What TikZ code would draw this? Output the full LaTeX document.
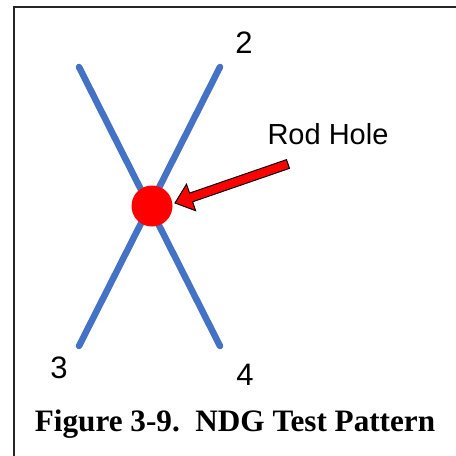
\documentclass[tikz,border=0pt]{standalone}
\usepackage{fontspec}
\setmainfont{Liberation Serif}
\setsansfont{Liberation Sans}
\usepackage{tikz}
\usetikzlibrary{calc}
\usepackage{xcolor}
\definecolor{patternblue}{RGB}{68,114,196}
\definecolor{holered}    {RGB}{255,0,0}

\begin{document}
\begin{tikzpicture}[
  x=0.5pt,y=-0.5pt,
  lbl/.style={font=\sffamily\fontsize{14.5pt}{16pt}\selectfont,inner sep=0pt},
  num/.style={font=\sffamily\fontsize{15.5pt}{17pt}\selectfont,inner sep=0pt},
  stroke/.style={draw=patternblue,line width=3.25pt,line cap=round},
  hole/.style={circle,fill=holered,minimum size=20.5pt,inner sep=0pt},
  pointer/.style={fill=holered,draw=black,line width=0.5pt,line join=miter},
]
\clip (0,0) rectangle (456,456);
\useasboundingbox (0,0) rectangle (456,456);

%% outer frame (only top and left edges fall inside)
\draw[line width=1pt,black!85] (14,7) rectangle (500,500);

%% the X test pattern
\coordinate (p1) at (79,67);
\coordinate (p2) at (220,67);
\coordinate (p3) at (79,346);
\coordinate (p4) at (220,346);
\draw[stroke] (p1) -- (p4);
\draw[stroke] (p2) -- (p3);

%% rod hole
\node[hole] (hole) at (152,206) {};

%% corner numbers
\node[num] (lab2) at (244,43) {2};
\node[num] (lab3) at (59,368) {3};
\node[num] (lab4) at (245,375) {4};

%% label and block arrow
\node[lbl] (rod) at (328,134) {Rod Hole};
\coordinate (tail) at (288,164);
\coordinate (tip) at (175,203);
\coordinate (hb) at ($(tip)!8.5pt!(tail)$);
\fill[pointer] (tip)
  -- ($(hb)!7pt!90:(tail)$) -- ($(hb)!2.3pt!90:(tail)$)
  -- ($(tail)!2.3pt!-90:(hb)$) -- ($(tail)!2.3pt!90:(hb)$)
  -- ($(hb)!2.3pt!-90:(tail)$) -- ($(hb)!7pt!-90:(tail)$) -- cycle;

%% caption
\node[font=\bfseries\fontsize{15.6pt}{18pt}\selectfont,inner sep=0pt,anchor=base]
  (caption) at (235,431) {Figure 3-9.\ \ NDG Test Pattern};

\end{tikzpicture}
\end{document}
